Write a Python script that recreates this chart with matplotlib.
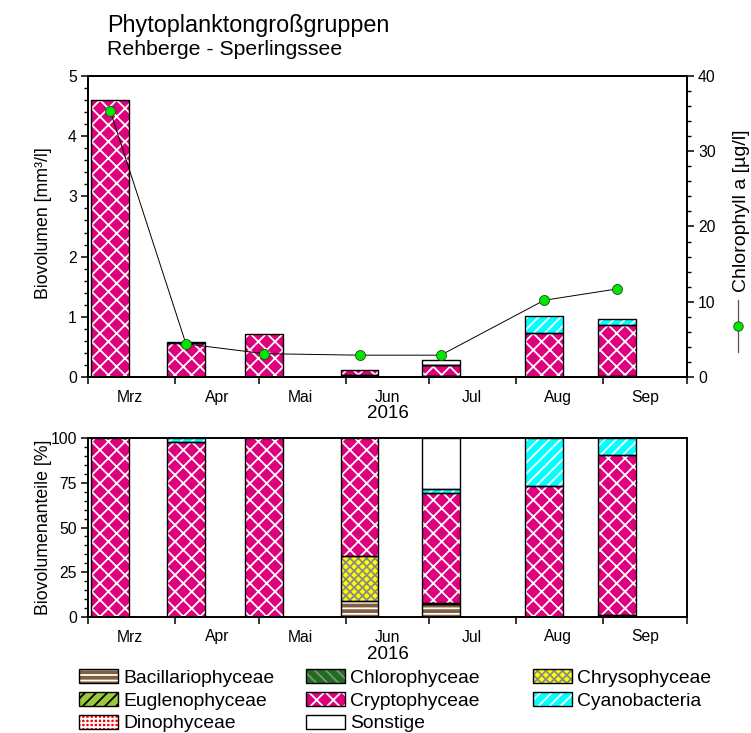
import numpy as np
import matplotlib
matplotlib.use('Agg')
import matplotlib.pyplot as plt
import matplotlib.dates as mdates
from matplotlib.patches import Patch
from matplotlib.lines import Line2D
from matplotlib.ticker import MultipleLocator
from datetime import date

plt.rcParams['font.family'] = ['Liberation Sans', 'DejaVu Sans']
plt.rcParams['hatch.linewidth'] = 1.3

# sampling dates and month labels
sample_dates = [date(2016, 3, 9), date(2016, 4, 5), date(2016, 5, 3), date(2016, 6, 6),
                date(2016, 7, 5), date(2016, 8, 11), date(2016, 9, 6)]
month_labels = ['Mrz', 'Apr', 'Mai', 'Jun', 'Jul', 'Aug', 'Sep']

# total biovolume [mm3/l] and chlorophyll a [ug/l]
biovolumen = [4.6, 0.58, 0.71, 0.12, 0.29, 1.01, 0.96]
chlorophyll = [35.3, 4.4, 3.1, 2.9, 2.9, 10.2, 11.7]

# shares of each group [%]
group_names = ['Bacillariophyceae', 'Chlorophyceae', 'Chrysophyceae', 'Euglenophyceae',
               'Cryptophyceae', 'Cyanobacteria', 'Dinophyceae', 'Sonstige']
bacillario = [0, 0, 0, 9, 7, 0, 0]
chloro = [0, 0, 0, 0, 1, 0, 1]
chryso = [0, 0, 0, 25, 0, 0, 0]
eugleno = [0, 0, 0, 0, 0, 0, 0]
crypto = [100, 98, 100, 66, 61, 73, 89.5]
cyano = [0, 2, 0, 0, 2.5, 27, 9.5]
dino = [0, 0, 0, 0, 0, 0, 0]
sonstige = [0, 0, 0, 0, 28.5, 0, 0]
shares = [bacillario, chloro, chryso, eugleno, crypto, cyano, dino, sonstige]

# face colour, hatch colour, hatch
styles = [
    ('#7f5f3e', 'white', '---'),
    ('#1e6e1e', '#8a8a8a', '\\\\\\'),
    ('#ffff00', '#8a8a8a', 'xxxx'),
    ('#9cc83c', 'black', '///'),
    ('#de007c', 'white', 'xx'),
    ('#00ffff', 'white', '///'),
    ('#ff0000', 'white', '++++'),
    ('white', 'white', ''),
]

W, H, DPI = 751, 733, 100
fig = plt.figure(figsize=(W / DPI, H / DPI), dpi=DPI)


def fx(px):
    return px / W


def fy(py):
    return 1 - py / H


ax = fig.add_axes([fx(88), fy(377), fx(687) - fx(88), fy(76) - fy(377)])
ax2 = ax.twinx()
axb = fig.add_axes([fx(88), fy(617), fx(687) - fx(88), fy(438) - fy(617)])

x = mdates.date2num(sample_dates)
bar_w = 13.5


def draw_stack(a, values):
    bottom = np.zeros(len(x))
    for vals, (face, hcol, hatch) in zip(values, styles):
        vals = np.asarray(vals, dtype=float)
        m = vals > 0
        if m.any():
            a.bar(x[m], vals[m], bar_w, bottom=bottom[m], color=face, edgecolor=hcol,
                  hatch=hatch, linewidth=0, zorder=2)
            a.bar(x[m], vals[m], bar_w, bottom=bottom[m], fill=False, edgecolor='black',
                  linewidth=1.0, zorder=3)
        bottom += vals


tot = np.array(biovolumen)
draw_stack(ax, [np.array(s) * tot / 100 for s in shares])
draw_stack(axb, shares)

ax2.plot(x, chlorophyll, color='black', lw=0.7, marker='o', ms=7.2,
         mfc='#00e600', mec='#1a4d1a', mew=0.6, zorder=5)

month_starts = mdates.date2num([date(2016, m, 1) for m in range(3, 11)])
month_mids = mdates.date2num([date(2016, m, 16) for m in range(3, 10)])

for a in (ax, axb):
    a.set_xlim(month_starts[0], month_starts[-1])
    a.set_xticks(month_starts)
    a.set_xticklabels([''] * len(month_starts))
    a.set_xticks(month_mids, minor=True)
    a.set_xticklabels(month_labels, minor=True)
    a.tick_params(axis='x', which='major', direction='out', length=5, width=1.1)
    a.tick_params(axis='x', which='minor', length=0, pad=9, labelsize=11.3)
    a.tick_params(axis='y', which='major', direction='out', length=5, width=1.1, labelsize=11.3, pad=3)
    a.tick_params(axis='y', which='minor', direction='out', length=3, width=1.0)
    for s in a.spines.values():
        s.set_linewidth(1.4)
    a.set_xlabel('2016', fontsize=13.5)

ax.xaxis.set_label_coords(0.5, -0.093)
axb.xaxis.set_label_coords(0.5, -0.16)

ax.set_ylim(0, 5)
ax.yaxis.set_major_locator(MultipleLocator(1))
ax.yaxis.set_minor_locator(MultipleLocator(0.2))
ax2.set_ylim(0, 40)
ax2.yaxis.set_major_locator(MultipleLocator(10))
ax2.yaxis.set_minor_locator(MultipleLocator(2))
ax2.tick_params(axis='y', which='major', direction='out', length=5, width=1.1, labelsize=11.3, pad=3)
ax2.tick_params(axis='y', which='minor', direction='out', length=3, width=1.0)
for s in ax2.spines.values():
    s.set_linewidth(1.4)

axb.set_ylim(0, 100)
axb.yaxis.set_major_locator(MultipleLocator(25))
axb.yaxis.set_minor_locator(MultipleLocator(5))

# titles and axis labels
fig.text(fx(107), fy(32), 'Phytoplanktongroßgruppen', fontsize=16.8, va='baseline')
fig.text(fx(107), fy(55), 'Rehberge - Sperlingssee', fontsize=15.3, va='baseline')
fig.text(fx(44), fy(223), 'Biovolumen [mm³/l]', fontsize=12.8, rotation=90, ha='center', va='center')
fig.text(fx(44), fy(527), 'Biovolumenanteile [%]', fontsize=12.8, rotation=90, ha='center', va='center')
fig.text(fx(741), fy(211), 'Chlorophyll a [µg/l]', fontsize=14, rotation=90, ha='center', va='center')
fig.add_artist(Line2D([fx(738), fx(738)], [fy(300), fy(352)], color='#555555', lw=0.9,
                      transform=fig.transFigure))
fig.add_artist(Line2D([fx(738)], [fy(326)], marker='o', ms=6.8, mfc='#00e600', mec='#1a4d1a',
                      mew=0.6, transform=fig.transFigure))

# legend, one per column
handles = []
for face, hcol, hatch in styles:
    handles.append((Patch(facecolor=face, edgecolor=hcol, hatch=hatch, linewidth=0),
                    Patch(fill=False, edgecolor='black', linewidth=1.0)))
columns = [[0, 3, 6], [1, 4, 7], [2, 5]]
col_x = [79, 306, 533]
for cols, cx in zip(columns, col_x):
    leg = fig.legend([handles[i] for i in cols], [group_names[i] for i in cols],
                     loc='upper left', bbox_to_anchor=(fx(cx), fy(669)),
                     bbox_transform=fig.transFigure, frameon=False, fontsize=13.9,
                     borderpad=0, borderaxespad=0, handlelength=2.0, handleheight=0.75,
                     handletextpad=0.3, labelspacing=0.26)

fig.savefig('out.png', dpi=DPI)
